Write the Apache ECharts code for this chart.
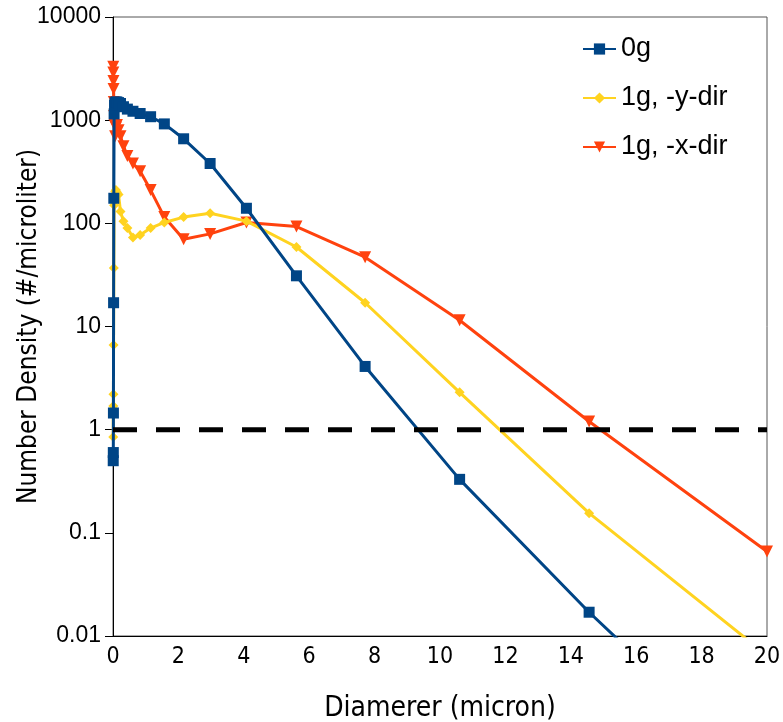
<!DOCTYPE html>
<html>
<head>
<meta charset="utf-8">
<script src="https://cdn.jsdelivr.net/npm/echarts@6/dist/echarts.min.js"></script>
<style>
  html, body { margin: 0; padding: 0; background: #fff; }
  #chart { width: 783px; height: 722px; }
</style>
</head>
<body>
<div id="chart"></div>
<script>
// Particle diameter bins (micron)
const diameters = [0.007, 0.0095, 0.013, 0.018, 0.025, 0.034, 0.047, 0.065, 0.09, 0.12,
  0.17, 0.23, 0.32, 0.44, 0.61, 0.83, 1.15, 1.57, 2.16, 2.97, 4.08, 5.61, 7.71, 10.6, 14.56, 20];

// Number density (#/microliter) per bin
const density0g = [0.5, 0.6, 1.45, 17, 175, 1150, 1400, 1480, 1500, 1500,
  1480, 1450, 1350, 1280, 1220, 1160, 1080, 920, 660, 380, 140, 31, 4.1, 0.33, 0.017, 0.0004];
const density1gY = [0.85, 1.7, 2.2, 6.6, 37, 150, 190, 205, 210, 200,
  190, 130, 105, 90, 73, 77, 90, 102, 115, 125, 105, 59, 17, 2.3, 0.155, 0.0065];
const density1gX = [3300, 2900, 2400, 2000, 1500, 1100, 900, 700, 850, 900,
  800, 700, 560, 450, 380, 320, 210, 115, 70, 79, 102, 93, 47, 11.5, 1.2, 0.066];

const seriesNames = ['0g', '1g, -y-dir', '1g, -x-dir'];
const referenceLevel = [[0, 1], [20, 1]];

const yTickLabels = ['0.01', '0.1', '1', '10', '100', '1000', '10000'];
const xTitle = 'Diamerer (micron)';
const yTitle = 'Number Density (#/microliter)';

const pairs = arr => diameters.map((d, i) => [d, arr[i]]);

const narrow = 'DejaVu Sans Condensed';
const regular = 'Liberation Sans';

const chart = echarts.init(document.getElementById('chart'), null, { renderer: 'canvas' });

chart.setOption({
  animation: false,
  backgroundColor: '#fff',
  grid: {
    left: 113, right: 16, top: 17, bottom: 86,
    outerBoundsMode: 'none',
    containLabel: false,
    show: true, borderColor: '#555', borderWidth: 1, backgroundColor: 'transparent'
  },
  legend: {
    data: seriesNames,
    orient: 'vertical',
    left: 582, top: 34, padding: 0,
    itemWidth: 33, itemHeight: 14, itemGap: 19,
    textStyle: { fontFamily: regular, fontSize: 27, color: '#000', lineHeight: 30 }
  },
  xAxis: {
    type: 'value', min: 0, max: 20, interval: 2,
    name: xTitle, nameLocation: 'middle', nameGap: 59, nameMoveOverlap: false,
    nameTextStyle: { fontFamily: narrow, fontSize: 28, color: '#000' },
    axisLine: { show: true, onZero: false, lineStyle: { color: '#000', width: 1 } },
    axisTick: { show: false },
    axisLabel: { fontFamily: narrow, fontSize: 23, color: '#000', margin: 10 },
    splitLine: { show: false }
  },
  yAxis: {
    type: 'log', logBase: 10, min: 0.01, max: 10000,
    name: yTitle, nameLocation: 'middle', nameGap: 71, nameMoveOverlap: false,
    nameTextStyle: { fontFamily: narrow, fontSize: 26, color: '#000' },
    axisLine: { show: true, lineStyle: { color: '#000', width: 1 } },
    axisTick: { show: true, inside: false, length: 8, lineStyle: { color: '#000' } },
    axisLabel: {
      fontFamily: regular, fontSize: 23, color: '#000', margin: 12,
      formatter: v => yTickLabels[Math.round(Math.log10(v)) + 2]
    },
    minorTick: { show: false },
    splitLine: { show: false }
  },
  series: [
    {
      name: seriesNames[0], type: 'line', data: pairs(density0g),
      symbol: 'rect', symbolSize: 11,
      itemStyle: { color: '#004586' },
      lineStyle: { color: '#004586', width: 3 },
      z: 4
    },
    {
      name: seriesNames[1], type: 'line', data: pairs(density1gY),
      symbol: 'diamond', symbolSize: 10,
      itemStyle: { color: '#ffd320' },
      lineStyle: { color: '#ffd320', width: 3 },
      z: 3
    },
    {
      name: seriesNames[2], type: 'line', data: pairs(density1gX),
      symbol: 'triangle', symbolSize: 12, symbolRotate: 180,
      itemStyle: { color: '#ff420e' },
      lineStyle: { color: '#ff420e', width: 3 },
      z: 2
    },
    {
      name: 'reference', type: 'line', data: referenceLevel,
      symbol: 'none', silent: true,
      lineStyle: { color: '#000', width: 5, type: [24, 19] },
      z: 5
    }
  ]
});
</script>
</body>
</html>
